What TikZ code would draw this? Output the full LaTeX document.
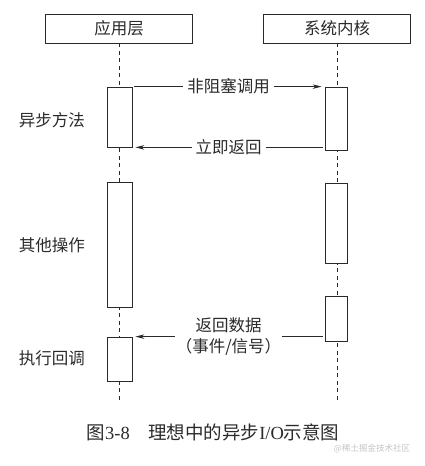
\documentclass[tikz,border=0pt]{standalone}
\usepackage{fontspec}
\setmainfont{Noto Sans CJK SC}
\newfontfamily\latinserif{Liberation Serif}
\usetikzlibrary{arrows.meta,positioning,calc}
\definecolor{ink}{HTML}{2A2A2A}
\definecolor{mark}{HTML}{C4C4C4}

\begin{document}
\begin{tikzpicture}[x=1pt,y=-1pt,>={Stealth[length=9pt,width=4.5pt]},
   font=\fontsize{16.5}{21}\selectfont,color=ink,line width=0.8pt,
   head/.style={draw,minimum width=147pt,minimum height=29pt,inner sep=0pt},
   act/.style={draw,fill=white,inner sep=0pt},
   life/.style={dash pattern=on 4pt off 3.5pt},
   msg/.style={->,shorten >=3pt,shorten <=2pt},
   lbl/.style={fill=white,inner sep=4pt,align=center}]
  \useasboundingbox (0,0) rectangle (425,466);
  % participants
  \node[head] (app) at (119,28.5) {应用层};
  \node[head] (krn) at (337,28.5) {系统内核};
  \coordinate (append) at (119,403);
  \coordinate (krnend) at (337,403);
  \draw[life] (app) -- (append);
  \draw[life] (krn) -- (krnend);
  % activations
  \node[act,minimum width=25pt,minimum height=60pt]  (a1) at (119.5,117)   {};
  \node[act,minimum width=25pt,minimum height=125pt] (a2) at (119.5,244.5) {};
  \node[act,minimum width=25pt,minimum height=44pt]  (a3) at (119.5,359)   {};
  \node[act,minimum width=22pt,minimum height=63pt]  (k1) at (336,118.5)   {};
  \node[act,minimum width=22pt,minimum height=80pt]  (k2) at (336,223)     {};
  \node[act,minimum width=22pt,minimum height=45pt]  (k3) at (336,318.5)   {};
  % messages
  \draw[msg] (a1.north east) -- (k1.west |- a1.north)
    node[lbl,pos=0.5] (m1) {非阻塞调用};
  \draw[msg] (k1.west |- a1.south) -- (a1.south east)
    node[lbl,pos=0.5] (m2) {立即返回};
  \draw[msg] (k3.west |- a3.north) -- (a3.north east)
    node[lbl,pos=0.5,inner sep=1pt] (m3) {返回数据\\（事件/信号）};
  % phases
  \node (p1) at (52,120) {异步方法};
  \node (p2) at (52,245) {其他操作};
  \node (p3) at (52,358) {执行回调};
  % caption
  \node[font=\fontsize{18.5}{22}\selectfont] (cap) at (213,432)
    {图{\latinserif 3-8}\hspace{1em}理想中的异步{\latinserif I/O}示意图};
  \node[color=mark,font=\fontsize{8.5}{10}\selectfont] (wm) at (372,449) {@稀土掘金技术社区};
\end{tikzpicture}
\end{document}
